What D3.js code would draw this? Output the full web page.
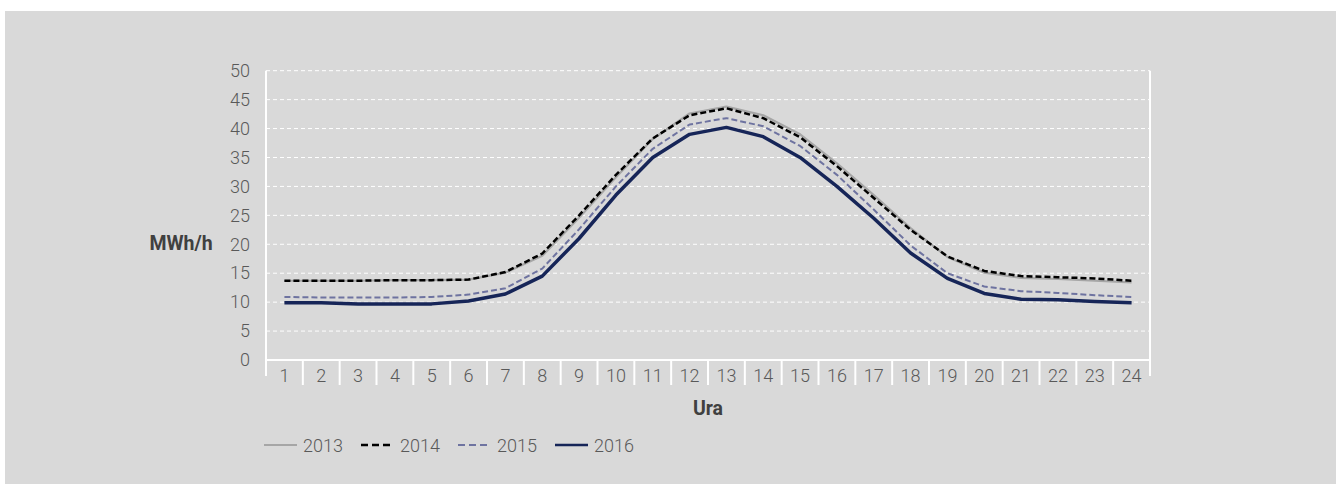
<!DOCTYPE html>
<html>
<head>
<meta charset="utf-8">
<script src="https://cdn.jsdelivr.net/npm/d3@7"></script>
<style>
  body { margin: 0; background: #fff; }
  svg { display: block; }
  .tick text { font-family: Roboto, sans-serif; font-size: 18px; font-weight: 300; fill: #595959; }
  .axisTitle { font-family: Roboto, sans-serif; font-size: 19.5px; font-weight: bold; fill: #404040; }
  .legendText { font-family: Roboto, sans-serif; font-size: 18px; font-weight: 300; fill: #595959; }
</style>
</head>
<body>
<script>
(function(){

    //hours of the day
    var hours = ["1","2","3","4","5","6","7","8","9","10","11","12",
                 "13","14","15","16","17","18","19","20","21","22","23","24"];
    //series values, MWh/h
    var y2013 = [13.7,13.7,13.7,13.8,13.8,13.9,15.1,18.0,24.6,31.6,38.2,42.6,43.8,42.3,39.0,34.0,28.5,22.8,17.8,15.1,14.2,14.0,13.7,13.4];
    var y2014 = [13.7,13.7,13.7,13.8,13.8,13.9,15.2,18.4,25.0,32.0,38.3,42.3,43.5,41.8,38.5,33.5,28.0,22.5,17.9,15.4,14.5,14.3,14.1,13.7];
    var y2015 = [10.9,10.8,10.8,10.8,10.9,11.3,12.4,15.8,22.6,30.0,36.5,40.7,41.8,40.4,37.0,32.0,26.0,19.8,15.0,12.7,11.9,11.6,11.2,10.9];
    var y2016 = [9.9,9.9,9.7,9.7,9.7,10.2,11.4,14.5,21.0,28.5,35.0,39.0,40.2,38.6,35.0,30.0,24.5,18.5,14.1,11.5,10.5,10.4,10.1,9.9];
    var yTicks = [0,5,10,15,20,25,30,35,40,45,50];

    var series = [
        {name: "2013", values: y2013, color: "#a6a6a6", width: 2.2, dash: null},
        {name: "2014", values: y2014, color: "#000000", width: 2.5, dash: "6,3"},
        {name: "2015", values: y2015, color: "#6e73a0", width: 2, dash: "6,3"},
        {name: "2016", values: y2016, color: "#162558", width: 3.5, dash: null}
    ];

    var width = 1338, height = 484;
    var left = 266, right = 1150, top = 70.7, bottom = 360;

    var svg = d3.select("body").append("svg")
        .attr("width", width)
        .attr("height", height);

    //grey panel
    svg.append("rect")
        .attr("x", 5).attr("y", 11)
        .attr("width", 1331).attr("height", 480)
        .attr("fill", "#d9d9d9");

    var x = d3.scaleBand().domain(hours).range([left, right]).padding(0);
    var y = d3.scaleLinear().domain([0, 50]).range([bottom, top]);

    //gridlines
    svg.selectAll(".grid")
        .data(yTicks.filter(function(d){ return d > 0; }))
        .enter().append("line")
        .attr("class", "grid")
        .attr("x1", left).attr("x2", right)
        .attr("y1", function(d){ return y(d); })
        .attr("y2", function(d){ return y(d); })
        .attr("stroke", "#ffffff")
        .attr("stroke-width", 1)
        .attr("stroke-dasharray", "4,3");

    //y axis
    var yAxis = svg.append("g")
        .attr("transform", "translate(" + left + ",0)")
        .call(d3.axisLeft(y).tickValues(yTicks).tickSize(0).tickPadding(16));
    yAxis.select(".domain").remove();

    //x axis labels
    var xAxis = svg.append("g")
        .attr("transform", "translate(0," + bottom + ")")
        .call(d3.axisBottom(x).tickSize(0).tickPadding(9));
    xAxis.select(".domain").remove();

    //axis frame lines
    svg.append("line")
        .attr("x1", left).attr("x2", left).attr("y1", top).attr("y2", 376)
        .attr("stroke", "#fff").attr("stroke-width", 2);
    svg.append("line")
        .attr("x1", right).attr("x2", right).attr("y1", top).attr("y2", 376)
        .attr("stroke", "#fff").attr("stroke-width", 2);
    svg.append("line")
        .attr("x1", left).attr("x2", right).attr("y1", bottom).attr("y2", bottom)
        .attr("stroke", "#fff").attr("stroke-width", 2);

    //category separators
    svg.selectAll(".sep")
        .data(hours.slice(1))
        .enter().append("line")
        .attr("class", "sep")
        .attr("x1", function(d){ return x(d); })
        .attr("x2", function(d){ return x(d); })
        .attr("y1", bottom).attr("y2", 385)
        .attr("stroke", "#fff").attr("stroke-width", 2);

    //lines
    var line = d3.line()
        .x(function(d, i){ return x(hours[i]) + x.bandwidth() / 2; })
        .y(function(d){ return y(d); });

    svg.selectAll(".series")
        .data(series)
        .enter().append("path")
        .attr("class", "series")
        .attr("d", function(d){ return line(d.values); })
        .attr("fill", "none")
        .attr("stroke", function(d){ return d.color; })
        .attr("stroke-width", function(d){ return d.width; })
        .attr("stroke-dasharray", function(d){ return d.dash; })
        .attr("stroke-linejoin", "round");

    //axis titles
    svg.append("text")
        .attr("class", "axisTitle")
        .attr("x", 181).attr("y", 250)
        .attr("text-anchor", "middle")
        .text("MWh/h");
    svg.append("text")
        .attr("class", "axisTitle")
        .attr("x", 708).attr("y", 415)
        .attr("text-anchor", "middle")
        .text("Ura");

    //legend
    var legendX = [264, 361, 458, 555];
    var legend = svg.selectAll(".legend")
        .data(series)
        .enter().append("g")
        .attr("class", "legend")
        .attr("transform", function(d, i){ return "translate(" + legendX[i] + ",445)"; });
    legend.append("line")
        .attr("x1", 0).attr("x2", 33).attr("y1", 0).attr("y2", 0)
        .attr("stroke", function(d){ return d.color; })
        .attr("stroke-width", function(d){ return Math.min(d.width, 2.5); })
        .attr("stroke-dasharray", function(d){ return d.dash ? "7,4" : null; });
    legend.append("text")
        .attr("class", "legendText")
        .attr("x", 39).attr("y", 6.5)
        .text(function(d){ return d.name; });

})();
</script>
</body>
</html>
